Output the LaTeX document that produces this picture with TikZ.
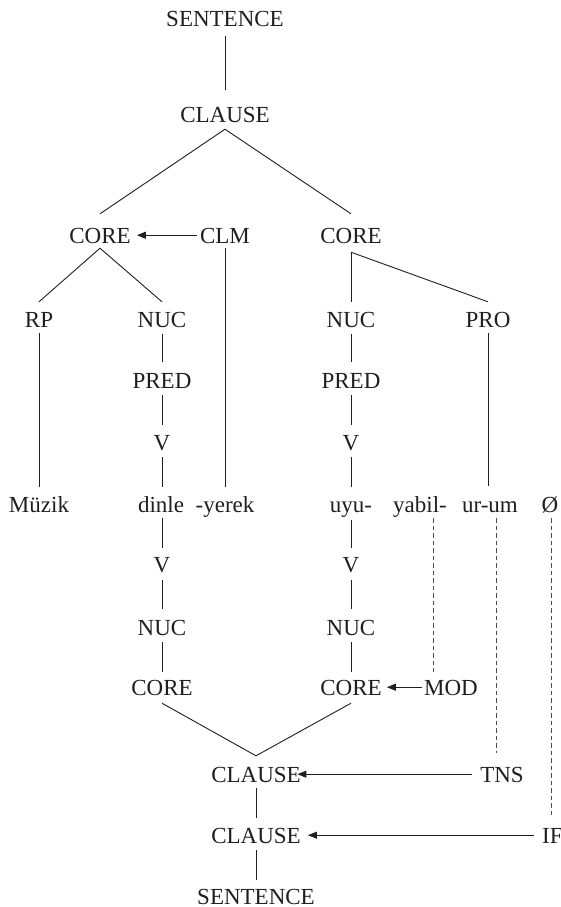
\documentclass[tikz,border=0pt]{standalone}
\usepackage{fontspec}
\setmainfont{Liberation Serif}
\usetikzlibrary{arrows.meta}
\begin{document}
\begin{tikzpicture}[x=1pt,y=-1pt,
  lbl/.style={anchor=base, inner sep=0pt, text height=15.6pt, text depth=0pt,
    font=\fontsize{23}{27}\selectfont, text=black!88},
  br/.style={line width=0.9pt, draw=black!88},
  dsh/.style={line width=0.8pt, draw=black!70, dash pattern=on 4.5pt off 3pt},
  arr/.style={line width=0.9pt, draw=black!88, -{Triangle[length=9pt,width=7pt]}}]
\fill[white] (0,0) rectangle (560,907);
\useasboundingbox (0,0) rectangle (560,907);
% nodes
\node[lbl] (s1) at (225,27) {SENTENCE};
\node[lbl] (c1) at (225,122) {CLAUSE};
\node[lbl] (coreL) at (100,243) {CORE};
\node[lbl] (clm) at (225,243) {CLM};
\node[lbl] (coreR) at (351,243) {CORE};
\node[lbl] (rp) at (39,327) {RP};
\node[lbl] (nucL) at (162,327) {NUC};
\node[lbl] (nucR) at (351,327) {NUC};
\node[lbl] (pro) at (488,327) {PRO};
\node[lbl] (predL) at (162,388) {PRED};
\node[lbl] (predR) at (351,388) {PRED};
\node[lbl] (vL) at (162,450) {V};
\node[lbl] (vR) at (351,450) {V};
\node[lbl] (muzik) at (39,512) {Müzik};
\node[lbl] (dinle) at (161,512) {dinle};
\node[lbl] (yerek) at (225,512) {-yerek};
\node[lbl] (uyu) at (351,512) {uyu-};
\node[lbl] (yabil) at (420,512) {yabil-};
\node[lbl] (urum) at (490,512) {ur-um};
\node[lbl] (null) at (550,512) {Ø};
\node[lbl] (vL2) at (162,572) {V};
\node[lbl] (vR2) at (351,572) {V};
\node[lbl] (nucL2) at (162,635) {NUC};
\node[lbl] (nucR2) at (351,635) {NUC};
\node[lbl] (coreL2) at (162,695) {CORE};
\node[lbl] (coreR2) at (351,695) {CORE};
\node[lbl] (mod) at (451,695) {MOD};
\node[lbl] (c2) at (256,782) {CLAUSE};
\node[lbl] (tns) at (502,782) {TNS};
\node[lbl] (c3) at (256,843) {CLAUSE};
\node[lbl, anchor=base west] (ifn) at (542,843) {IF};
\node[lbl] (s2) at (256,904) {SENTENCE};
% upper tree
\draw[br] ([yshift=-9pt]s1.south) -- ([yshift=16.4pt]c1.north);
\draw[br] ([yshift=-7pt]c1.south) -- ([yshift=13.4pt]coreL.north);
\draw[br] ([yshift=-7pt]c1.south) -- ([yshift=13.4pt]coreR.north);
\draw[br] ([yshift=-5pt]coreL.south) -- ([yshift=9.4pt]rp.north);
\draw[br] ([yshift=-5pt]coreL.south) -- ([yshift=9.4pt]nucL.north);
\draw[br] ([yshift=-5pt]clm.south) -- ([yshift=9.4pt]yerek.north);
\draw[br] ([yshift=-9pt]coreR.south) -- ([yshift=9.4pt]nucR.north);
\draw[br] ([yshift=-9pt]coreR.south) -- ([yshift=9.4pt]pro.north);
\draw[br] ([yshift=-6pt]rp.south) -- ([yshift=9.4pt]muzik.north -| rp.south);
\draw[br] ([yshift=-7pt]nucL.south) -- ([yshift=10.4pt]predL.north);
\draw[br] ([yshift=-7pt]predL.south) -- ([yshift=9.4pt]vL.north);
\draw[br] ([yshift=-7pt]vL.south) -- ([yshift=9.4pt]dinle.north -| vL.south);
\draw[br] ([yshift=-7pt]nucR.south) -- ([yshift=10.4pt]predR.north);
\draw[br] ([yshift=-7pt]predR.south) -- ([yshift=9.4pt]vR.north);
\draw[br] ([yshift=-7pt]vR.south) -- ([yshift=9.4pt]uyu.north);
\draw[br] ([yshift=-6pt]pro.south) -- ([yshift=10pt]urum.north -| pro.south);
% lower tree
\draw[br] ([yshift=-6pt]dinle.south -| vL2.north) -- ([yshift=8.4pt]vL2.north);
\draw[br] ([yshift=-8pt]vL2.south) -- ([yshift=10.4pt]nucL2.north);
\draw[br] ([yshift=-7pt]nucL2.south) -- ([yshift=7.4pt]coreL2.north);
\draw[br] ([yshift=-8pt]uyu.south) -- ([yshift=8.4pt]vR2.north);
\draw[br] ([yshift=-8pt]vR2.south) -- ([yshift=10.4pt]nucR2.north);
\draw[br] ([yshift=-7pt]nucR2.south) -- ([yshift=7.4pt]coreR2.north);
\draw[br] ([yshift=-8pt]coreL2.south) -- ([yshift=10.4pt]c2.north);
\draw[br] ([yshift=-8pt]coreR2.south) -- ([yshift=10.4pt]c2.north);
\draw[br] ([yshift=-6pt]c2.south) -- ([yshift=9.4pt]c3.north);
\draw[br] ([yshift=-7pt]c3.south) -- ([yshift=8.4pt]s2.north);
% dashed operator links
\draw[dsh] ([xshift=13pt,yshift=-6pt]yabil.south) -- ([xshift=-18pt,yshift=7.4pt]mod.north);
\draw[dsh] ([xshift=6pt,yshift=-6pt]urum.south) -- ([xshift=-6pt,yshift=13.4pt]tns.north);
\draw[dsh] ([xshift=1pt,yshift=-6pt]null.south) -- ([xshift=9pt,yshift=10.4pt]ifn.north west);
% arrows
\draw[arr, shorten <=3pt, shorten >=6pt] (clm.west) -- (coreL.east);
\draw[arr, shorten <=2pt, shorten >=5pt] (mod.west) -- (coreR2.east);
\draw[arr, shorten <=8pt, shorten >=-3.5pt] (tns.west) -- (c2.east);
\draw[arr, shorten <=8pt, shorten >=7pt] (ifn.west) -- (c3.east);
\end{tikzpicture}
\end{document}
